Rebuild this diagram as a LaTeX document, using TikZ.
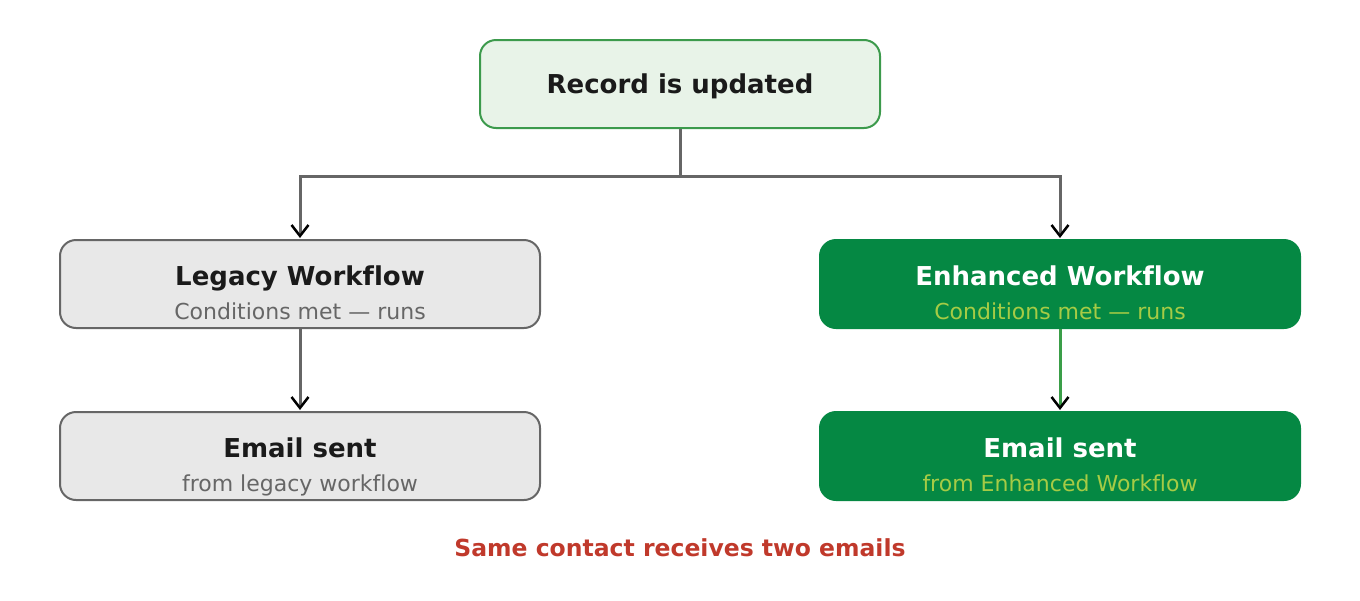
\documentclass[tikz,border=0pt]{standalone}
\usepackage{fontspec}
\setmainfont[Ligatures=NoCommon]{DejaVu Sans}
\usepackage{xcolor}
\usetikzlibrary{arrows.meta}

\definecolor{recfill}{HTML}{E8F3E8}
\definecolor{recline}{HTML}{3C9A4C}
\definecolor{legfill}{HTML}{E8E8E8}
\definecolor{legline}{HTML}{666666}
\definecolor{enhfill}{HTML}{058843}
\definecolor{enhsub}{HTML}{A6CB45}
\definecolor{darktext}{HTML}{1A1A1A}
\definecolor{graytext}{HTML}{666666}
\definecolor{linkgray}{HTML}{666666}
\definecolor{linkgreen}{HTML}{3A9E48}
\definecolor{warnred}{HTML}{C0392B}

\tikzset{
  box/.style={rounded corners=16pt, minimum width=480pt, minimum height=88pt, inner sep=0pt, line width=2pt},
  recbox/.style={box, minimum width=400pt, fill=recfill, draw=recline},
  legbox/.style={box, fill=legfill, draw=legline},
  enhbox/.style={box, fill=enhfill, draw=enhfill},
  ttl/.style={anchor=base, inner sep=0pt, font=\fontsize{26}{30}\selectfont\bfseries, text=darktext},
  sub/.style={anchor=base, inner sep=0pt, font=\fontsize{22}{26}\selectfont, text=graytext},
  link/.style={line width=3pt, draw=linkgray},
  conn/.style={link, -{Straight Barb[length=11pt,width=17pt,line width=2.5pt,black]}, shorten >=1pt}
}

\begin{document}
\begin{tikzpicture}[x=1pt,y=-1pt]
\useasboundingbox (0,0) rectangle (1360,600);

\node[recbox] (rec) at (680,84) {};
\node[ttl] (rectxt) at ([yshift=-9pt]rec.center) {Record is updated};

\node[legbox] (leg) at (300,284) {};
\node[ttl] (legtxt) at ([yshift=-1pt]leg.center) {Legacy Workflow};
\node[sub] (legsub) at ([yshift=-35pt]leg.center) {Conditions met — runs};

\node[enhbox] (enh) at (1060,284) {};
\node[ttl, text=white] (enhtxt) at ([yshift=-1pt]enh.center) {Enhanced Workflow};
\node[sub, text=enhsub] (enhsub) at ([yshift=-35pt]enh.center) {Conditions met — runs};

\node[legbox] (legmail) at (300,456) {};
\node[ttl] (legmailtxt) at ([yshift=-1pt]legmail.center) {Email sent};
\node[sub] (legmailsub) at ([yshift=-35pt]legmail.center) {from legacy workflow};

\node[enhbox] (enhmail) at (1060,456) {};
\node[ttl, text=white] (enhmailtxt) at ([yshift=-1pt]enhmail.center) {Email sent};
\node[sub, text=enhsub] (enhmailsub) at ([yshift=-35pt]enhmail.center) {from Enhanced Workflow};

\coordinate (split) at (680,176);
\draw[link] (rec.south) -- (split);
\draw[conn] (split) -| (leg.north);
\draw[conn] (split) -| (enh.north);
\draw[conn] (leg.south) -- (legmail.north);
\draw[conn, draw=linkgreen] (enh.south) -- (enhmail.north);

\node[anchor=base, inner sep=0pt, font=\fontsize{23.5}{28}\selectfont\bfseries, text=warnred] (warn) at (680,556) {Same contact receives two emails};
\end{tikzpicture}
\end{document}
